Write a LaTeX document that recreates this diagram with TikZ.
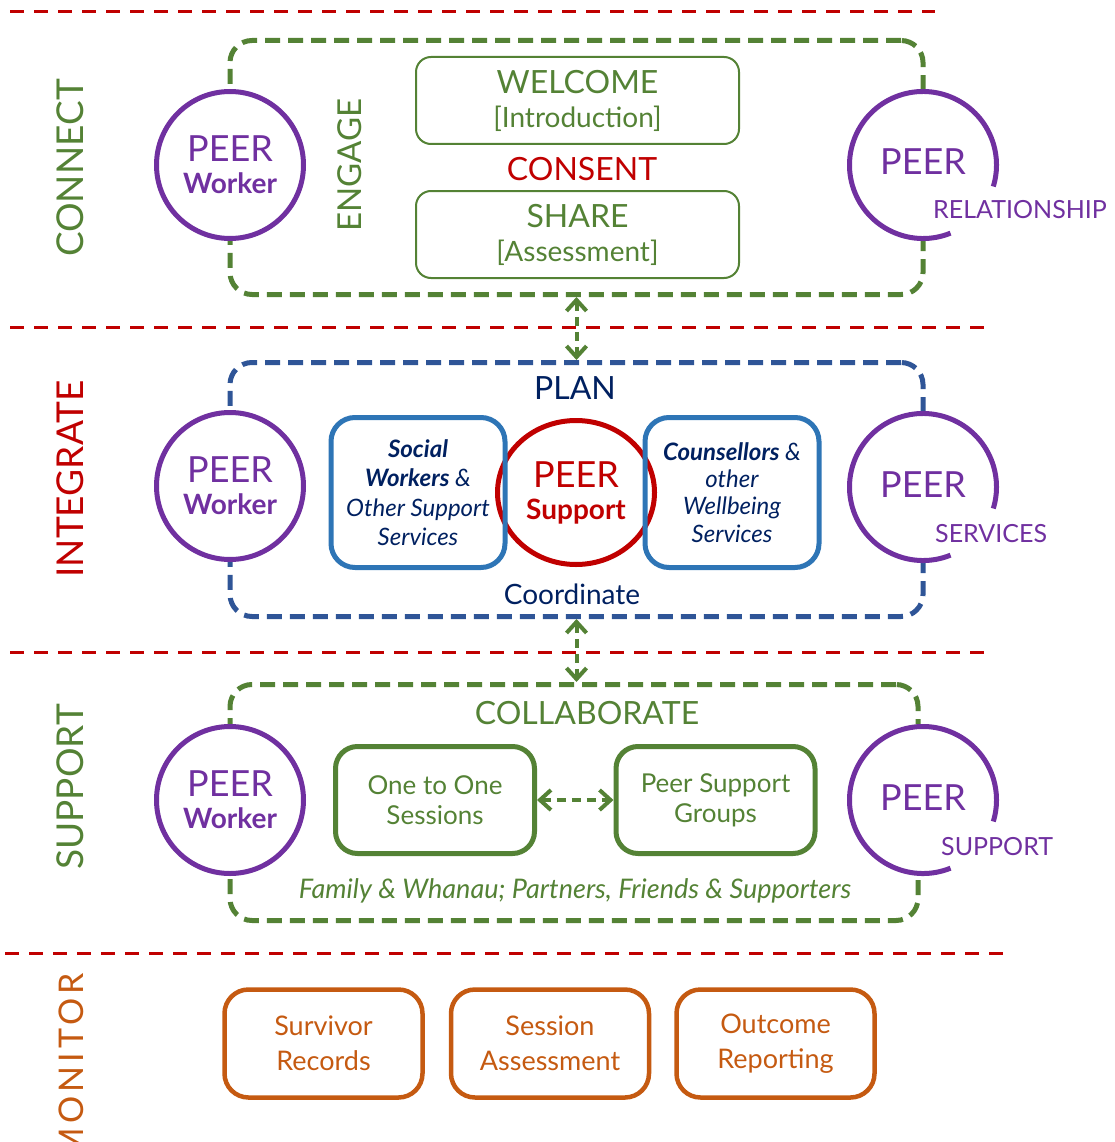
\documentclass[tikz,border=0pt]{standalone}
\usepackage{fontspec}
\setmainfont{Lato}
\usetikzlibrary{arrows.meta,shapes.geometric}

\definecolor{pgreen}{HTML}{548235}
\definecolor{pred}{HTML}{C00000}
\definecolor{ppurple}{HTML}{7030A0}
\definecolor{pnavy}{HTML}{002060}
\definecolor{pdash}{HTML}{2F5597}
\definecolor{pblue}{HTML}{2E75B6}
\definecolor{porange}{HTML}{C55A11}

\newcommand{\fsz}[1]{\fontsize{#1}{#1}\selectfont}

\begin{document}
\begin{tikzpicture}[x=1pt, y=-1pt,
  sep/.style={draw=pred, line width=3pt, dash pattern=on 14pt off 10pt},
  stage/.style={rotate=90, inner sep=0pt, font=\fsz{37}},
  area/.style={draw, line width=5pt, dash pattern=on 15pt off 8pt, rounded corners=22pt, inner sep=0pt},
  peer/.style={circle, draw=ppurple, fill=white, line width=5pt, minimum size=147pt, inner sep=0pt, text=ppurple, align=center, font=\fsz{36}},
  ring/.style={circle, fill=white, minimum size=152pt, inner sep=0pt, text=ppurple, font=\fsz{36}, text height=27pt, text depth=7pt},
  arcline/.style={draw=ppurple, line width=5pt},
  tag/.style={anchor=base west, inner sep=0pt, text=ppurple, font=\fsz{25}},
  heading/.style={anchor=base, inner sep=0pt, font=\fsz{32}},
  thinbox/.style={draw=pgreen, line width=2pt, rounded corners=15pt, minimum width=323pt, minimum height=87pt, inner sep=0pt, text=pgreen, align=center, font=\fontsize{32}{34}\selectfont},
  svcbox/.style={draw=pblue, line width=5pt, rounded corners=24pt, minimum width=174pt, minimum height=150pt, inner sep=0pt, text=pnavy, align=center},
  grpbox/.style={draw=pgreen, line width=5pt, rounded corners=22pt, minimum width=199pt, minimum height=107pt, inner sep=0pt, text=pgreen, align=center, font=\fontsize{26}{30}\selectfont},
  monbox/.style={draw=porange, line width=4.5pt, rounded corners=24pt, minimum width=198pt, minimum height=108pt, inner sep=0pt, text=porange, align=center, font=\fontsize{27}{35}\selectfont},
  link/.style={draw=pgreen, line width=4pt, dash pattern=on 9pt off 6pt, {Straight Barb[length=11pt,width=20pt]}-{Straight Barb[length=11pt,width=20pt]}}
]

\def\lx{230}
\def\rx{923}

\useasboundingbox (0,0) rectangle (1115,1142);

% SEPARATORS
\draw [sep] (10,12) -- (935,12);
\draw [sep] (10,327) -- (990,327);
\draw [sep] (10,652) -- (990,652);
\draw [sep] (5,953) -- (1010,953);

% STAGES
\node [stage, text=pgreen] (connect) at (70,168) {CONNECT};
\node [stage, text=pred] (integrate) at (70,479) {INTEGRATE};
\node [stage, text=pgreen] (support) at (70,787) {SUPPORT};
\node [stage, text=porange, anchor=east, font=\fsz{34}\addfontfeature{LetterSpace=12}] (monitor) at (71,973) {MONITOR};

% AREAS
\node [area, draw=pgreen, minimum width=693pt, minimum height=254pt] (cbox) at (576.5,167.5) {};
\node [area, draw=pdash, minimum width=693pt, minimum height=254pt] (ibox) at (576.5,489.5) {};
\node [area, draw=pgreen, minimum width=688pt, minimum height=236pt] (sbox) at (574,802.5) {};

% LINKS
\draw [link] (cbox.south) -- (ibox.north);
\draw [link] (ibox.south) -- (ibox.south |- sbox.north);

% PEER CIRCLES
\node [peer] (cw) at (\lx,165) {PEER\\[-4pt]{\fsz{28}\bfseries Worker}};
\node [peer] (iw) at (\lx,486) {PEER\\[-4pt]{\fsz{28}\bfseries Worker}};
\node [peer] (sw) at (\lx,800) {PEER\\[-4pt]{\fsz{28}\bfseries Worker}};

\node [ring] (cr) at (\rx,165) {PEER};
\draw [arcline] (cr.center) ++(68:73.5) arc (68:377:73.5);
\node [tag] (crt) at (933,218) {RELATIONSHIP};

\node [ring] (ir) at (\rx,487) {PEER};
\draw [arcline] (ir.center) ++(68:73.5) arc (68:377:73.5);
\node [tag] (irt) at (935,542) {SERVICES};

\node [ring] (sr) at (\rx,800) {PEER};
\draw [arcline] (sr.center) ++(68:73.5) arc (68:377:73.5);
\node [tag] (srt) at (941,855) {SUPPORT};

% CONNECT
\node [stage, text=pgreen, font=\fsz{33}] (engage) at (350,165) {ENGAGE};
\node [thinbox] (welcome) at (577.5,100.5) {WELCOME\\{\fsz{28}[Introduction]}};
\node [heading, text=pred] (consent) at (582,180) {CONSENT};
\node [thinbox] (share) at (577.5,234.5) {SHARE\\{\fsz{28}[Assessment]}};

% INTEGRATE
\node [heading, text=pnavy] (plan) at (575,399) {PLAN};
\node [ellipse, draw=pred, line width=5pt, minimum width=157pt, minimum height=144pt, inner sep=0pt, text=pred, align=center, font=\fsz{36}] (psup) at (576,492.5) {PEER\\[-4pt]{\fsz{28}\bfseries Support}};
\node [svcbox, font=\fontsize{24}{29.5}\selectfont\itshape] (social) at (418,492.5) {{\bfseries Social}\\{\bfseries Workers} \&\\Other Support\\Services};
\node [svcbox, font=\fontsize{24}{27.3}\selectfont\itshape] (couns) at (732,492.5) {{\bfseries Counsellors} \&\\other\\Wellbeing\\Services};
\node [heading, text=pnavy, font=\fsz{28}] (coord) at (572,604) {Coordinate};

% SUPPORT
\node [heading, text=pgreen] (collab) at (587,724) {COLLABORATE};
\node [grpbox] (one) at (435,800) {One to One\\Sessions};
\node [grpbox] (grp) at (715.5,800) {Peer Support\\Groups};
\draw [link] (one.east) -- (grp.west);
\node [heading, text=pgreen, font=\fsz{27}\itshape] (family) at (575,898) {Family \& Whanau; Partners, Friends \& Supporters};

% MONITOR
\node [monbox] (records) at (323.5,1043.5) {Survivor\\Records};
\node [monbox] (assess) at (550,1043.5) {Session\\Assessment};
\node [monbox] (report) at (775.5,1043.5) {Outcome\\Reporting};

\end{tikzpicture}
\end{document}
